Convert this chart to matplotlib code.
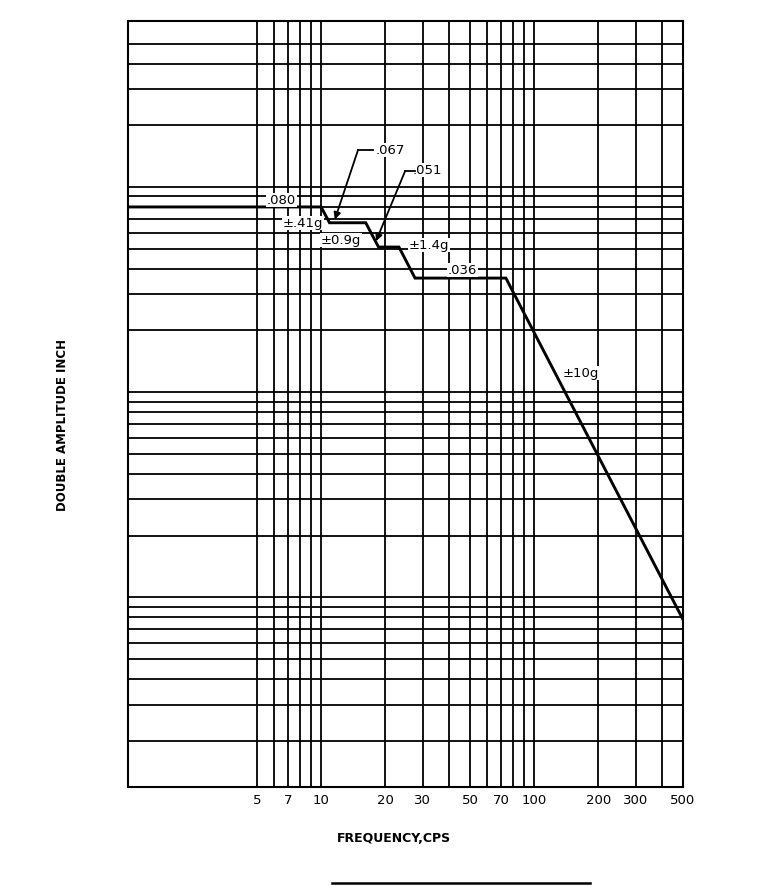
import matplotlib
matplotlib.use('Agg')
import matplotlib.pyplot as plt
from matplotlib.lines import Line2D
import numpy as np

# vibration test curve (double amplitude vs frequency)
freq = [1.0, 10, 10.95, 16.2, 18.6, 23.2, 27.6, 73.7, 500]
amplitude = [0.080, 0.080, 0.067, 0.067, 0.051, 0.051, 0.036, 0.036, 0.00078]

# tick labels and graph paper lines
freq_labels = [5, 7, 10, 20, 30, 50, 70, 100, 200, 300, 500]
freq_minor = [6, 8, 9, 40, 60, 80, 90, 400]
amp_lines = [0.5, 0.4, 0.3, 0.2,
             0.1, 0.09, 0.08, 0.07, 0.06, 0.05, 0.04, 0.03, 0.02,
             0.01, 0.009, 0.008, 0.007, 0.006, 0.005, 0.004, 0.003, 0.002,
             0.001, 0.0009, 0.0008, 0.0007, 0.0006, 0.0005, 0.0004, 0.0003, 0.0002]

fig = plt.figure(figsize=(7.71, 8.86), dpi=100)
ax = fig.add_axes([128 / 771, 1 - 787 / 886, 555 / 771, 766 / 886])
ax.set_xscale('log')
ax.set_yscale('log')
ax.set_xlim(1.24, 500)
ax.set_ylim(1.19e-4, 0.645)

ax.set_xticks(freq_labels)
ax.set_xticklabels([str(v) for v in freq_labels])
ax.set_xticks(freq_minor, minor=True)
ax.set_yticks(amp_lines)
ax.set_yticklabels([])
ax.set_yticks([], minor=True)
ax.tick_params(axis='both', which='both', length=0)
ax.tick_params(axis='x', pad=5, labelsize=9.5)

ax.grid(True, which='both', color='black', lw=1.3)
ax.set_axisbelow(True)
for s in ax.spines.values():
    s.set_linewidth(1.5)

ax.plot(freq, amplitude, color='black', lw=2.1, solid_joinstyle='miter', zorder=5)

box = dict(facecolor='white', edgecolor='none', pad=0.6)
tk = dict(fontsize=9.5, ha='center', va='center', bbox=box, zorder=6)
ax.text(6.49, 0.0864, '.080', **tk)
ax.text(8.23, 0.0668, '±.41g', **tk)
ax.text(12.4, 0.0551, '±0.9g', **tk)
ax.text(21.1, 0.1515, '.067', **tk)
ax.text(31.4, 0.121, '.051', **tk)
ax.text(32.2, 0.0521, '±1.4g', **tk)
ax.text(45.9, 0.0394, '.036', **tk)
ax.text(166, 0.0124, '±10g', **tk)

# leader lines with arrows
ax.plot([14.9, 17.6], [0.1515, 0.1515], color='black', lw=1.3, zorder=6)
ax.annotate('', xy=(11.6, 0.0695), xytext=(14.9, 0.1515),
            arrowprops=dict(arrowstyle='-|>', color='black', lw=1.3,
                            mutation_scale=10, shrinkA=0, shrinkB=0), zorder=7)
ax.plot([24.8, 27.7], [0.1197, 0.1197], color='black', lw=1.3, zorder=6)
ax.annotate('', xy=(18.1, 0.0545), xytext=(24.8, 0.1197),
            arrowprops=dict(arrowstyle='-|>', color='black', lw=1.3,
                            mutation_scale=10, shrinkA=0, shrinkB=0), zorder=7)

fig.text(62 / 771, 1 - 425 / 886, 'DOUBLE AMPLITUDE INCH', rotation=90,
         ha='center', va='center', fontsize=8.5, fontweight='bold')
fig.text(394 / 771, 1 - 838 / 886, 'FREQUENCY,CPS', ha='center', va='center',
         fontsize=9, fontweight='bold')
fig.add_artist(Line2D([332 / 771, 590 / 771], [1 - 883 / 886, 1 - 883 / 886],
                      transform=fig.transFigure, color='black', lw=1.8))

fig.savefig('out.png', dpi=100, facecolor='white')
